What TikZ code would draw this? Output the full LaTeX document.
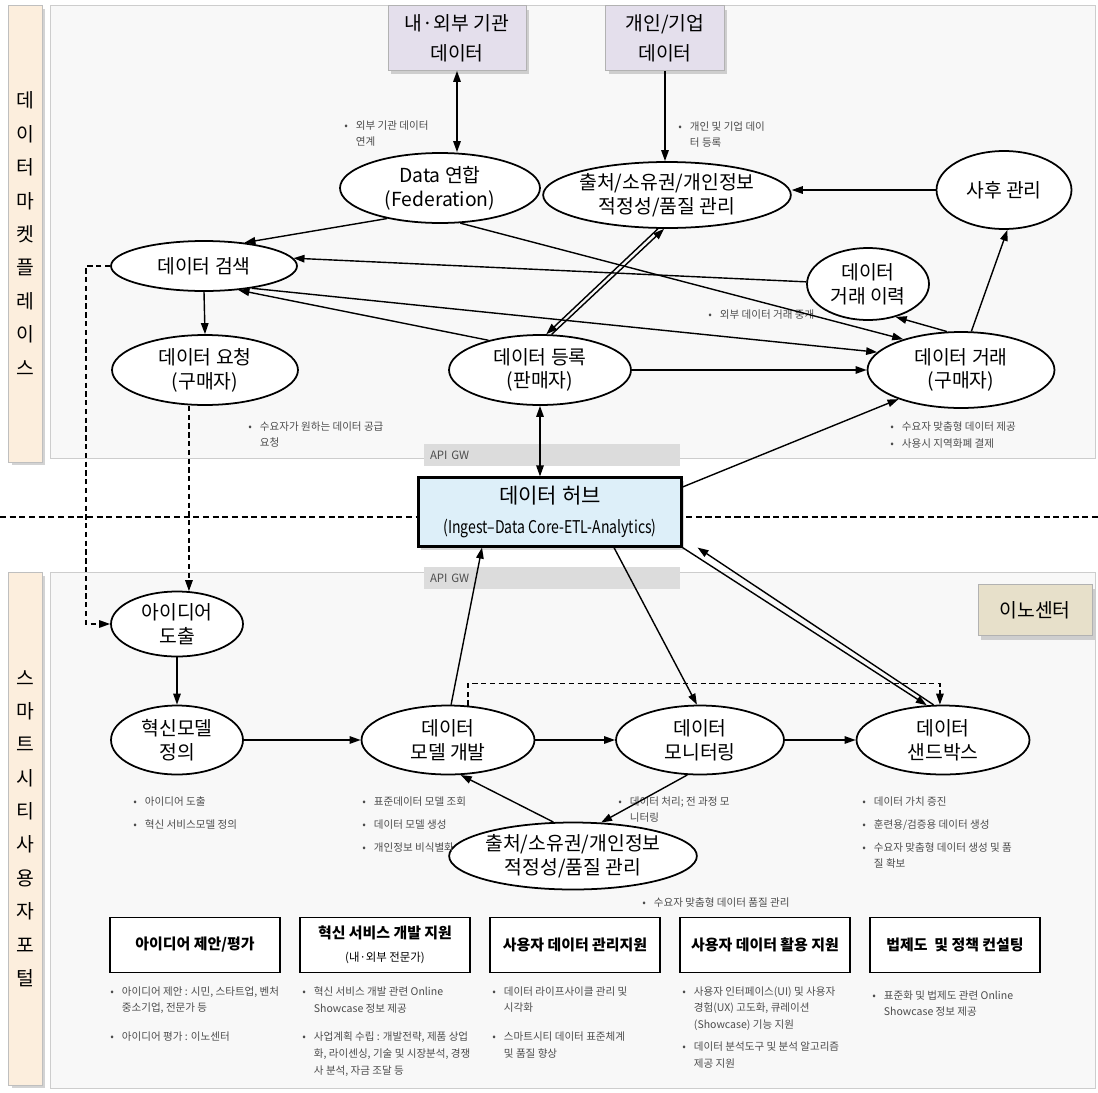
\documentclass[tikz,border=0pt]{standalone}
\usepackage{fontspec}
\setmainfont{Noto Sans CJK KR}
\usetikzlibrary{shapes.geometric,shadows,arrows.meta}

\definecolor{barpeach}{HTML}{FCEEDD}
\definecolor{panelgray}{HTML}{F8F8F8}
\definecolor{panelline}{HTML}{CDCDCD}
\definecolor{srcpurple}{HTML}{E4DFEC}
\definecolor{hubblue}{HTML}{DDEFF9}
\definecolor{gwgray}{HTML}{DCDCDC}
\definecolor{innobeige}{HTML}{E7E0CA}

\newcommand{\bitem}{\makebox[1.1em][l]{\textbullet}}
\newcommand{\bpad}{\hspace*{1.1em}}

\tikzset{
  panel/.style={draw=panelline, fill=panelgray},
  sepline/.style={line width=1.1pt, dash pattern=on 3.5pt off 2pt},
  sidebar/.style={draw=black!25, fill=barpeach, minimum width=0.68cm, inner sep=0,
    align=center, font=\fontsize{11}{19}\selectfont,
    drop shadow={opacity=0.35, shadow xshift=0.07cm, shadow yshift=-0.07cm}},
  srcbox/.style={draw=black!30, fill=srcpurple, minimum width=2.76cm, minimum height=1.3cm,
    inner sep=0, align=center, font=\fontsize{11}{17}\selectfont,
    drop shadow={opacity=0.35, shadow xshift=0.06cm, shadow yshift=-0.08cm}},
  ell/.style={ellipse, draw, line width=1pt, fill=white, inner sep=0, align=center,
    font=\fontsize{11}{13.5}\selectfont},
  gw/.style={fill=gwgray, minimum height=0.44cm, inner xsep=0.12cm, inner ysep=0,
    text width=4.88cm, align=left, text=black!70, font=\fontsize{6.5}{8}\selectfont},
  note/.style={anchor=north west, inner sep=0, align=left, text=black!70,
    font=\fontsize{6}{9.6}\selectfont},
  svcbox/.style={draw, line width=1pt, fill=white, minimum width=3.4cm, minimum height=1.1cm,
    inner sep=0, align=center, font=\bfseries\fontsize{8.5}{13}\selectfont},
  arr/.style={-{Triangle[length=2.2mm,width=1.5mm]}, line width=0.8pt},
  both/.style={{Triangle[length=2.2mm,width=1.5mm]}-{Triangle[length=2.2mm,width=1.5mm]}, line width=0.8pt},
  dasharr/.style={arr, dash pattern=on 3pt off 2pt},
}

\begin{document}
\begin{tikzpicture}[x=0.02cm,y=-0.02cm]
\useasboundingbox (0,0) rectangle (1098,1092);

%% two panels and the line between them
\draw[panel] (50,5) rectangle (1095,458);
\draw[panel] (50,572) rectangle (1095,1088);
\draw[sepline] (0,517) -- (1098,517);

%% side labels
\node[sidebar, minimum height=9.14cm] (mkt) at (25,233.5) {데\\이\\터\\마\\켓\\플\\레\\이\\스};
\node[sidebar, minimum height=10.26cm] (portal) at (25,828.5) {스\\마\\트\\시\\티\\사\\용\\자\\포\\털};

%% gateways
\node[gw] (gwtop) at (552,455) {API GW};
\node[gw] (gwbot) at (552,578) {API GW};

%% data market place
\node[srcbox] (inst) at (457,38) {내·외부 기관\\데이터};
\node[srcbox, minimum width=2.38cm] (pers) at (665,38) {개인/기업\\데이터};

\node[ell, minimum width=4cm, minimum height=1.4cm] (fed) at (440,188) {Data 연합\\(Federation)};
\node[ell, minimum width=3.68cm, minimum height=1.32cm] (src) at (667,195) {출처/소유권/개인정보\\적정성/품질 관리};
\node[ell, minimum width=2.7cm, minimum height=1.56cm] (after) at (1004,190) {사후 관리};
\node[ell, minimum width=3.72cm, minimum height=1cm] (search) at (204,266) {데이터 검색};
\node[ell, minimum width=2.44cm, minimum height=1.44cm] (hist) at (868,284) {데이터\\거래 이력};
\node[ell, minimum width=3.72cm, minimum height=1.4cm] (req) at (205,370) {데이터 요청\\(구매자)};
\node[ell, minimum width=3.64cm, minimum height=1.4cm] (reg) at (540,370) {데이터 등록\\(판매자)};
\node[ell, minimum width=3.74cm, minimum height=1.52cm] (trade) at (961,370) {데이터 거래\\(구매자)};

\node[note] (nfed) at (344,120) {\bitem 외부 기관 데이터\\\bpad 연계};
\node[note] (npers) at (678,121) {\bitem 개인 및 기업 데이\\\bpad 터 등록};
\node[note] (nbroker) at (708,309) {\bitem 외부 데이터 거래 중개};
\node[note] (nreq) at (248,421) {\bitem 수요자가 원하는 데이터 공급\\\bpad 요청};
\node[note] (ntrade) at (890,421) {\bitem 수요자 맞춤형 데이터 제공\\\bitem 사용시 지역화폐 결제};

%% hub
\node[draw, line width=1.2pt, fill=hubblue, minimum width=5.26cm, minimum height=1.38cm,
  inner sep=0, align=center, font=\fontsize{10}{17}\selectfont,
  drop shadow={opacity=0.3, shadow xshift=0.05cm, shadow yshift=-0.07cm}] (hub) at (550,512)
  {{\fontsize{12}{14}\selectfont 데이터 허브}\\\scalebox{0.8}[1]{(Ingest–Data Core-ETL-Analytics)}};

\node[draw=black!30, fill=innobeige, minimum width=2.28cm, minimum height=1.02cm, inner sep=0,
  font=\fontsize{11}{13}\selectfont,
  drop shadow={opacity=0.35, shadow xshift=0.06cm, shadow yshift=-0.08cm}] (inno) at (1035,610) {이노센터};

%% smart city portal
\node[ell, minimum width=2.64cm, minimum height=1.3cm] (idea) at (177,624) {아이디어\\도출};
\node[ell, minimum width=2.64cm, minimum height=1.38cm] (model) at (177,740) {혁신모델\\정의};
\node[ell, minimum width=3.46cm, minimum height=1.38cm] (dev) at (448,740) {데이터\\모델 개발};
\node[ell, minimum width=3.36cm, minimum height=1.38cm] (mon) at (700,740) {데이터\\모니터링};
\node[ell, minimum width=3.46cm, minimum height=1.38cm] (sand) at (943,740) {데이터\\샌드박스};
\node[ell, minimum width=3.74cm, minimum height=1.34cm] (src2) at (573,856) {출처/소유권/개인정보\\적정성/품질 관리};

\node[note] (nmodel) at (133,796) {\bitem 아이디어 도출\\[3.5pt]\bitem 혁신 서비스모델 정의};
\node[note] (ndev) at (362,796) {\bitem 표준데이터 모델 조회\\[3.5pt]\bitem 데이터 모델 생성\\[3.5pt]\bitem 개인정보 비식별화};
\node[note] (nmon) at (618,796) {\bitem 데이터 처리; 전 과정 모\\\bpad 니터링};
\node[note] (nsand) at (862,796) {\bitem 데이터 가치 증진\\[3.5pt]\bitem 훈련용/검증용 데이터 생성\\[3.5pt]\bitem 수요자 맞춤형 데이터 생성 및 품\\\bpad 질 확보};
\node[note] (nqual) at (642,897) {\bitem 수요자 맞춤형 데이터 품질 관리};

%% support services
\node[svcbox] (svca) at (195,945) {아이디어 제안/평가};
\node[svcbox] (svcb) at (385,945) {혁신 서비스 개발 지원\\{\mdseries\fontsize{6.5}{8}\selectfont (내·외부 전문가)}};
\node[svcbox] (svcc) at (575,945) {사용자 데이터 관리지원};
\node[svcbox] (svcd) at (765,945) {사용자 데이터 활용 지원};
\node[svcbox] (svce) at (955,945) {법제도\ \ 및 정책 컨설팅};

\node[note] (nsvca) at (110,986) {\bitem 아이디어 제안 : 시민, 스타트업, 벤처\\\bpad 중소기업, 전문가 등\\[6.5pt]\bitem 아이디어 평가 : 이노센터};
\node[note] (nsvcb) at (302,986) {\bitem 혁신 서비스 개발 관련 Online\\\bpad Showcase 정보 제공\\[6.5pt]\bitem 사업계획 수립 : 개발전략, 제품 상업\\\bpad 화, 라이센싱, 기술 및 시장분석, 경쟁\\\bpad 사 분석, 자금 조달 등};
\node[note] (nsvcc) at (492,986) {\bitem 데이터 라이프사이클 관리 및\\\bpad 시각화\\[6.5pt]\bitem 스마트시티 데이터 표준체계\\\bpad 및 품질 향상};
\node[note] (nsvcd) at (682,986) {\bitem 사용자 인터페이스(UI) 및 사용자\\\bpad 경험(UX) 고도화, 큐레이션\\\bpad (Showcase) 기능 지원\\[3pt]\bitem 데이터 분석도구 및 분석 알고리즘\\\bpad 제공 지원};
\node[note] (nsvce) at (872,990) {\bitem 표준화 및 법제도 관련 Online\\\bpad Showcase 정보 제공};

%% market place links
\draw[both] (inst.south) -- (fed.north -| inst.south);
\draw[arr] (pers.south) -- (src.north -| pers.south);
\draw[arr] (after.west) -- (src.east |- after.west);
\draw[arr] (fed.210) -- (search.30);
\draw[arr] (fed.-60) -- (trade.152);
\draw[arr] (hist.178) -- (search.5);
\draw[arr] (search.-25) -- (trade.168);
\draw[arr] (reg.150) -- (search.-35);
\draw[arr] (reg.east) -- (trade.west);
\draw[arr] (trade.110) -- (hist.-50);
\draw[arr] (trade.75) -- (after.-85);
\draw[arr] (reg.72) -- (src.-95);
\draw[arr] (src.-105) -- (reg.80);
\draw[arr] (search.south) -- (req.north);
\draw[both] (reg.south) -- (reg.south |- hub.north);
\draw[arr] ([yshift=0.5cm]hub.east) -- (trade.205);

%% portal links
\draw[dasharr] (req.south -| idea.70) -- (idea.70);
\draw[dasharr] (search.west) -- ++(-24,0) |- (idea.west);
\draw[arr] (idea.south) -- (model.north);
\draw[arr] (model.east) -- (dev.west);
\draw[arr] (dev.east) -- (mon.west);
\draw[arr] (mon.east) -- (sand.west);
\draw[arr] (dev.85) -- ([xshift=-1.36cm]hub.south);
\draw[arr] ([xshift=1.28cm]hub.south) -- (mon.95);
\draw[arr] (hub.south east) -- (sand.115);
\draw[arr] (sand.105) -- ([xshift=0.3cm]hub.south east);
\draw[dasharr] (dev.60) -- ++(0,-22) -| (sand.95);
\draw[arr] (mon.-110) -- (src2.50);
\draw[arr] (src2.120) -- (dev.-70);
\end{tikzpicture}
\end{document}
